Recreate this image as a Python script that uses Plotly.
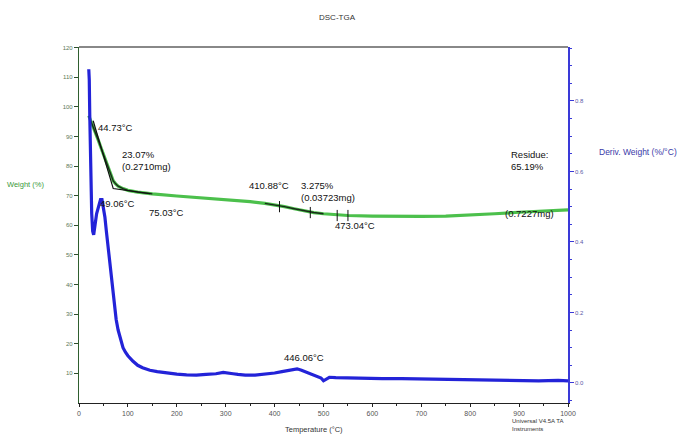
import plotly.graph_objects as go

# Weight (%) versus temperature (°C)
temp_w = [20, 25, 30, 35, 40, 45, 50, 55, 60, 65, 70, 75, 80, 90, 100, 120, 150, 200, 250, 300,
          350, 380, 400, 420, 440, 460, 480, 500, 525, 550, 600, 650, 700, 750, 800, 850, 900, 950, 1000]
weight = [97.0, 95.0, 93.0, 90.8, 88.5, 86.2, 84.0, 81.5, 79.0, 77.0, 75.0, 74.0, 73.2, 72.4, 71.8, 71.2, 70.6, 69.9,
          69.3, 68.6, 68.0, 67.4, 66.9, 66.3, 65.6, 64.9, 64.3, 63.9, 63.5, 63.3, 63.1, 63.0, 63.0, 63.1, 63.4,
          63.9, 64.4, 64.9, 65.2]

# Derivative weight (%/°C) versus temperature (°C)
temp_d = [20, 21, 22, 24, 26, 28, 30, 33, 36, 40, 44, 47, 50, 53, 56, 60, 64, 68, 72, 76, 80, 85, 90,
          95, 100, 110, 120, 130, 145, 160, 180, 200, 220, 240, 260, 280, 295, 305, 315, 325, 340, 360, 380,
          400, 415, 430, 440, 446, 455, 465, 475, 485, 495, 500, 505, 512, 525, 550, 580, 620, 660, 700, 740,
          780, 820, 860, 900, 940, 980, 1000]
deriv = [0.89, 0.86, 0.76, 0.58, 0.48, 0.43, 0.42, 0.45, 0.48, 0.50, 0.52, 0.52, 0.50, 0.47, 0.43,
         0.38, 0.32, 0.26, 0.22, 0.18, 0.15, 0.12, 0.10, 0.087, 0.077, 0.062, 0.050, 0.043, 0.036, 0.032,
         0.028, 0.025, 0.023, 0.022, 0.024, 0.026, 0.030, 0.029, 0.026, 0.024, 0.022, 0.022, 0.024, 0.028,
         0.032, 0.036, 0.039, 0.040, 0.036, 0.030, 0.024, 0.018, 0.014, 0.006, 0.010, 0.016, 0.015, 0.014,
         0.013, 0.012, 0.012, 0.011, 0.010, 0.009, 0.008, 0.007, 0.006, 0.006, 0.007, 0.006]

# Onset construction lines for the first step
tangent_t = [29, 70, 145]
tangent_w = [95.3, 72.4, 70.7]

# Step marker positions on the weight curve
step_t = [410, 473, 528, 550]

x_ticks = list(range(0, 1001, 100))
w_ticks = list(range(10, 121, 10))
d_ticks = [0.0, 0.2, 0.4, 0.6, 0.8]

FONT = "Liberation Sans"
GREEN = "#3a9a3a"
BLUE = "#2323d8"

fig = go.Figure()

fig.add_trace(go.Scatter(x=temp_d, y=deriv, yaxis="y2", mode="lines",
                         line=dict(color=BLUE, width=3.2), showlegend=False))

fig.add_trace(go.Scatter(x=temp_w, y=weight, mode="lines",
                         line=dict(color="#4cc04c", width=3.2), showlegend=False))

# darker overlay on the analysed regions of the weight curve
for lo, hi in [(20, 150), (380, 500)]:
    xs = [t for t in temp_w if lo <= t <= hi]
    ys = [w for t, w in zip(temp_w, weight) if lo <= t <= hi]
    fig.add_trace(go.Scatter(x=xs, y=ys, mode="lines",
                             line=dict(color="#1a2a1a", width=1.4), showlegend=False))

fig.add_trace(go.Scatter(x=tangent_t, y=tangent_w, mode="lines",
                         line=dict(color="#111111", width=1.2), showlegend=False))

step_w = [next(w for t2, w in zip(temp_w, weight) if t2 >= t) for t in step_t]
fig.add_trace(go.Scatter(x=step_t, y=step_w, mode="markers",
                         marker=dict(symbol="line-ns-open", size=8, color="#111111",
                                     line=dict(width=1, color="#111111")),
                         showlegend=False))

# Annotation texts: (T, weight-axis position, text, anchor)
labels = [
    (35, 93.0, "44.73°C", "left"),
    (84, 82.0, "23.07%<br>(0.2710mg)", "left"),
    (38, 67.3, "49.06°C", "left"),
    (139, 64.3, "75.03°C", "left"),
    (343, 73.4, "410.88°C", "left"),
    (450, 71.4, "3.275%<br>(0.03723mg)", "left"),
    (520, 59.9, "473.04°C", "left"),
    (922, 81.9, "Residue:<br>65.19%", "center"),
    (922, 64.0, "(0.7227mg)", "center"),
    (460, 15.2, "446.06°C", "center"),
]
annotations = []
for tx, ty, txt, anc in labels:
    annotations.append(dict(x=tx, y=ty, xref="x", yref="y", text=txt, showarrow=False,
                            xanchor=anc, yanchor="middle", align="left",
                            font=dict(family=FONT, size=9.5, color="#111111")))

# Page texts positioned in pixels, converted to paper fractions below
page_texts = [
    (337, 18, "DSC-TGA", "center", 8, "#333333"),
    (25, 185, "Weight (%)", "center", 7.5, GREEN),
    (638, 152, "Deriv. Weight (%/°C)", "center", 8.5, "#3a3aa8"),
    (314, 429, "Temperature (°C)", "center", 7.5, "#333333"),
    (510, 425, "Universal V4.5A TA<br>Instruments", "left", 6, "#333333"),
]

L, R, T, B, W, H = 79, 118, 47, 38, 686, 441
pw, ph = W - L - R, H - T - B
for px, py, txt, anc, fs, col in page_texts:
    annotations.append(dict(x=(px - L) / pw, y=1 - (py - T) / ph, xref="paper", yref="paper",
                            text=txt, showarrow=False, xanchor=anc, yanchor="middle",
                            align="left", font=dict(family=FONT, size=fs, color=col)))

fig.update_layout(
    width=W, height=H,
    margin=dict(l=L, r=R, t=T, b=B),
    paper_bgcolor="white", plot_bgcolor="white",
    font=dict(family=FONT, size=7, color="#444444"),
    annotations=annotations,
    xaxis=dict(range=[0, 1000], tickvals=x_ticks, ticks="outside", ticklen=3,
               tickcolor="#222222", showline=True, linecolor="#222222", linewidth=1.2,
               showgrid=False, zeroline=False,
               minor=dict(dtick=50, ticks="outside", ticklen=2, tickcolor="#222222"),
               tickfont=dict(size=7, color="#555555")),
    yaxis=dict(range=[0, 120.2], tickvals=w_ticks, ticks="outside", ticklen=4,
               tickcolor="#2f4f2f", showline=True, linecolor="#2f5f2f", linewidth=1.2,
               showgrid=False, zeroline=False,
               tickfont=dict(size=6, color="#5a7a5a")),
    yaxis2=dict(range=[-0.057, 0.953], tickvals=d_ticks, overlaying="y", side="right",
                ticks="outside", ticklen=4, tickcolor="#3a3ad8", showline=True,
                linecolor="#3a3ad8", linewidth=1.5, showgrid=False, zeroline=False,
                tickformat=".1f",
                minor=dict(dtick=0.05, ticks="outside", ticklen=2, tickcolor="#3a3ad8"),
                tickfont=dict(size=6, color="#5a5aa8")),
    shapes=[dict(type="line", xref="paper", yref="paper", x0=0, x1=1, y0=1, y1=1,
                 line=dict(color="#888888", width=2))],
)

fig.write_html("out.html")
